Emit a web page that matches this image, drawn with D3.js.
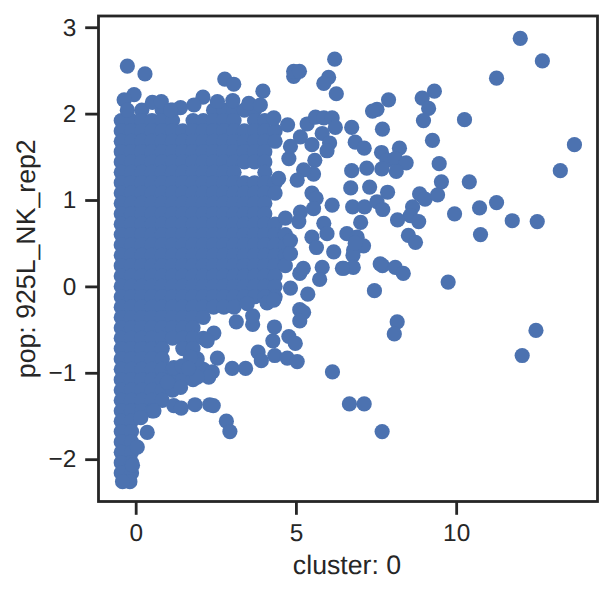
<!DOCTYPE html>
<html>
<head>
<meta charset="utf-8">
<script src="https://cdn.jsdelivr.net/npm/d3@7/dist/d3.min.js"></script>
<style>
  body { margin: 0; background: #fff; }
  text { font-family: "Liberation Sans", Arial, sans-serif; fill: #262626; text-rendering: geometricPrecision; }
</style>
</head>
<body>
<div id="chart"></div>
<script>
///////////////////////////////////////////////////////////////////////////
// Data
///////////////////////////////////////////////////////////////////////////
const xTicks = [0, 5, 10];
const yTicks = [-2, -1, 0, 1, 2, 3];
const xLabel = "cluster: 0";
const yLabel = "pop: 925L_NK_rep2";

// Dots that can be told apart on the right of the cloud
const outliers = [
  [12.0,2.87],[12.69,2.61],[11.26,2.41],[9.32,2.26],[8.94,2.18],[9.14,2.06],[8.98,1.92],[10.26,1.93],
  [7.89,2.16],[7.53,2.05],[7.39,2.03],[6.74,1.84],[7.70,1.82],[9.26,1.69],[13.69,1.64],[6.85,1.67],
  [7.13,1.60],[8.23,1.60],[7.67,1.55],[7.84,1.46],[8.10,1.48],[8.44,1.43],[9.47,1.42],[13.25,1.34],
  [6.74,1.34],[7.21,1.37],[7.68,1.36],[8.13,1.33],[9.54,1.21],[10.41,1.21],[6.71,1.14],[7.30,1.15],
  [7.86,1.09],[8.86,1.07],[9.03,1.01],[9.42,1.06],[11.26,0.97],[10.73,0.91],[9.95,0.84],[6.77,0.92],
  [7.14,0.92],[7.53,0.98],[7.71,0.89],[8.64,0.92],[8.57,0.82],[8.17,0.77],[8.83,0.75],[11.75,0.76],
  [12.53,0.75],[7.02,0.74],[10.76,0.60],[8.51,0.59],[8.73,0.51],[6.59,0.61],[6.91,0.57],[7.11,0.47],
  [6.80,0.42],[6.78,0.36],[6.85,0.50],[7.70,0.24],[9.75,0.05],[7.45,-0.05],[7.63,0.26],[8.10,0.22],
  [8.35,0.15],[6.79,0.22],[6.45,0.21],[8.16,-0.41],[8.07,-0.55],[12.49,-0.51],[12.06,-0.80],[6.14,-0.99],
  [6.67,-1.36],[7.13,-1.36],[7.69,-1.68]
];

// Dots along the upper and right edge of the cloud
const upperFringe = [
  [-0.26,2.55],[0.29,2.46],[6.21,2.63],[4.93,2.43],[4.93,2.49],[5.11,2.49],[6.02,2.42],[5.87,2.35],
  [6.26,2.23],[2.78,2.40],[3.06,2.34],[3.97,2.26],[-0.05,2.22],[-0.36,2.16],[0.52,2.13],[0.80,2.14],
  [2.10,2.19],[2.55,2.14],[3.03,2.15],[3.53,2.12],[3.89,2.10],[1.40,2.07],[1.82,2.10],[1.09,2.04],
  [-0.26,2.04],[4.31,1.95],[4.74,1.87],[5.35,1.88],[5.61,1.96],[5.87,1.95],[6.13,1.95],[6.23,1.84],
  [5.14,1.73],[5.50,1.64],[5.82,1.77],[6.05,1.66],[5.97,1.57],[5.59,1.46],[4.78,1.48],[4.83,1.62],
  [5.55,1.30],[5.24,1.35],[5.04,1.23],[4.46,1.25],[5.50,1.08],[5.63,1.02],[5.55,0.90],[5.14,0.86],
  [5.09,0.75],[4.67,0.79],[6.13,0.94],[5.87,0.73],[5.50,0.57],[5.97,0.61],[5.64,0.45],[6.18,0.40],
  [4.83,0.53],[4.83,0.38],[6.49,0.21],[5.82,0.22],[5.74,0.08],[5.12,0.15],[5.23,0.21]
];

// Dots along the lower edge of the cloud
const lowerFringe = [
  [4.83,-0.02],[5.37,-0.09],[5.12,-0.27],[5.24,-0.30],[5.12,-0.40],[4.33,-0.47],[4.78,-0.58],[4.98,-0.66],
  [4.28,-0.63],[3.82,-0.76],[3.92,-0.86],[4.34,-0.80],[4.73,-0.83],[5.04,-0.87],[3.14,-0.41],[3.65,-0.44],
  [3.65,-0.34],[3.48,-0.20],[4.10,-0.19],[4.31,-0.16],[2.44,-0.54],[2.23,-0.63],[2.55,-0.83],[3.01,-0.95],
  [3.43,-0.95],[2.39,-0.99],[2.28,-1.05],[1.92,-1.05],[1.92,-0.84],[1.71,-0.82],[1.19,-0.94],[1.45,-0.92],
  [1.65,-0.95],[1.40,-1.17],[0.99,-1.11],[1.19,-1.38],[1.42,-1.41],[1.85,-1.37],[2.31,-1.37],[2.42,-1.38],
  [2.83,-1.56],[2.94,-1.68],[0.36,-1.69],[0.05,-1.86],[-0.10,-2.07],[-0.18,-2.26],[-0.41,-2.26],[0.57,-1.44],
  [0.16,-1.52]
];

// The middle of the cloud is solid colour in the picture, single dots can't be
// read there. These are estimates, one row per y value, enough to cover the area.
const coreY = [2.04,1.92,1.80,1.68,1.56,1.44,1.32,1.20,1.08,0.96,0.84,0.72,0.60,0.48,0.36,0.24,0.12,0.00,
  -0.12,-0.24,-0.36,-0.48,-0.60,-0.72,-0.84,-0.96,-1.08,-1.20,-1.32,-1.44,-1.56,-1.68,-1.80,-1.92,-2.04,-2.16];
const coreX = [
  [0.19,0.83,1.15,2.43,2.75,3.07,3.39,3.71],
  [-0.45,-0.13,0.19,0.51,0.83,1.15,1.79,2.11,2.43,2.75,3.07,3.71,4.03],
  [-0.45,-0.13,0.19,0.51,0.83,1.15,1.47,1.79,2.11,2.43,2.75,3.07,3.39,3.71,4.03,4.35],
  [-0.45,-0.13,0.19,0.51,0.83,1.15,1.47,1.79,2.11,2.43,2.75,3.07,3.39,3.71,4.03,4.35],
  [-0.45,-0.13,0.19,0.51,0.83,1.15,1.47,1.79,2.11,2.43,2.75,3.07,3.39,3.71,4.03],
  [-0.45,-0.13,0.19,0.51,0.83,1.15,1.47,1.79,2.11,2.43,2.75,3.07,3.39,3.71,4.03],
  [-0.45,-0.13,0.19,0.51,0.83,1.15,1.47,1.79,2.11,2.43,2.75,3.07,4.03],
  [-0.45,-0.13,0.19,0.51,0.83,1.15,1.47,1.79,2.11,2.43,2.75,3.07,3.39,3.71,4.03,4.35],
  [-0.45,-0.13,0.19,0.51,0.83,1.15,1.47,1.79,2.11,2.43,2.75,3.07,3.39,3.71,4.03,4.35],
  [-0.45,-0.13,0.19,0.51,0.83,1.15,1.47,1.79,2.11,2.43,2.75,3.07,3.39,3.71,4.03],
  [-0.45,-0.13,0.19,0.51,0.83,1.15,1.47,1.79,2.11,2.43,2.75,3.07,3.39,3.71,4.03],
  [-0.45,-0.13,0.19,0.51,0.83,1.15,1.47,1.79,2.11,2.43,2.75,3.07,3.39,3.71,4.03,4.35],
  [-0.45,-0.13,0.19,0.51,0.83,1.15,1.47,1.79,2.11,2.43,2.75,3.07,3.39,3.71,4.03,4.35,4.67],
  [-0.45,-0.13,0.19,0.51,0.83,1.15,1.47,1.79,2.11,2.43,2.75,3.07,3.39,3.71,4.03,4.35,4.67],
  [-0.45,-0.13,0.19,0.51,0.83,1.15,1.47,1.79,2.11,2.43,2.75,3.07,3.39,3.71,4.03,4.35,4.67],
  [-0.45,-0.13,0.19,0.51,0.83,1.15,1.47,1.79,2.11,2.43,2.75,3.07,3.39,3.71,4.03,4.35,4.67],
  [-0.45,-0.13,0.19,0.51,0.83,1.15,1.47,1.79,2.11,2.43,2.75,3.07,3.39,3.71,4.03,4.35],
  [-0.45,-0.13,0.19,0.51,0.83,1.15,1.47,1.79,2.11,2.43,2.75,3.07,3.39,3.71,4.03,4.35],
  [-0.45,-0.13,0.19,0.51,0.83,1.15,1.47,1.79,2.11,2.43,2.75,3.07,3.39,3.71,4.03,4.35],
  [-0.45,-0.13,0.19,0.51,0.83,1.15,1.47,1.79,2.11,2.43,2.75,3.07],
  [-0.45,-0.13,0.19,0.51,0.83,1.15,1.47,1.79,2.11],
  [-0.45,-0.13,0.19,0.51,0.83,1.15,1.47,1.79],
  [-0.45,-0.13,0.19,0.51,0.83,1.15,1.47,1.79,2.11],
  [-0.45,-0.13,0.19,0.51,0.83,1.47,1.79],
  [-0.45,-0.13,0.19,0.51,0.83],
  [-0.45,-0.13,0.19,0.51,0.83,1.15,1.47,1.79,2.11],
  [-0.45,-0.13,0.19,0.51,0.83,1.15,1.47,1.79],
  [-0.45,-0.13,0.19,0.51,0.83,1.15],
  [-0.45,-0.13,0.19,0.51,0.83],
  [-0.45,-0.13,0.19,0.51],
  [-0.45,-0.13],
  [-0.45,-0.13],
  [-0.45,-0.13],
  [-0.45,-0.13],
  [-0.45,-0.13],
  [-0.45,-0.13]
];

///////////////////////////////////////////////////////////////////////////
// Set up the SVG
///////////////////////////////////////////////////////////////////////////
const width = 613;
const height = 595;
const box = { left: 98.5, right: 597.5, top: 16, bottom: 501.5 };
const ink = "#262626";
const blue = "#4C72B0";
const lineW = 2.8;

const svg = d3.select("#chart").append("svg")
  .attr("width", width)
  .attr("height", height)
  .style("display", "block");

const x = d3.scaleLinear().domain([-1.16, 14.41]).range([box.left, box.right]);
const y = d3.scaleLinear().domain([-2.49, 3.13]).range([box.bottom, box.top]);

///////////////////////////////////////////////////////////////////////////
// Points
///////////////////////////////////////////////////////////////////////////
const corePoints = coreY.flatMap((v, i) => coreX[i].map(u => [u, v]));
const points = corePoints.concat(lowerFringe, upperFringe, outliers);

svg.append("g")
  .selectAll("circle")
  .data(points)
  .join("circle")
  .attr("cx", d => x(d[0]))
  .attr("cy", d => y(d[1]))
  .attr("r", 7.6)
  .attr("fill", blue);

///////////////////////////////////////////////////////////////////////////
// Axes
///////////////////////////////////////////////////////////////////////////
const xAxis = svg.append("g")
  .attr("transform", `translate(0,${box.bottom})`)
  .call(d3.axisBottom(x).tickValues(xTicks).tickFormat(d3.format("d")).tickSize(13.3).tickPadding(9));

const yAxis = svg.append("g")
  .attr("transform", `translate(${box.left},0)`)
  .call(d3.axisLeft(y).tickValues(yTicks).tickFormat(d3.format("d")).tickSize(13.3).tickPadding(9));

[xAxis, yAxis].forEach(ax => {
  ax.select(".domain").remove();
  ax.selectAll("line").attr("stroke", ink).attr("stroke-width", lineW);
  ax.selectAll("text")
    .attr("font-size", "24.4px")
    .attr("font-family", "'Liberation Sans', Arial, sans-serif")
    .attr("fill", ink);
});

svg.append("rect")
  .attr("x", box.left)
  .attr("y", box.top)
  .attr("width", box.right - box.left)
  .attr("height", box.bottom - box.top)
  .attr("fill", "none")
  .attr("stroke", ink)
  .attr("stroke-width", lineW);

svg.append("text")
  .attr("x", (box.left + box.right) / 2 - 1)
  .attr("y", 574)
  .attr("text-anchor", "middle")
  .attr("font-size", "26.7px")
  .text(xLabel);

svg.append("text")
  .attr("transform", `translate(34.5,${(box.top + box.bottom) / 2}) rotate(-90)`)
  .attr("text-anchor", "middle")
  .attr("font-size", "26.7px")
  .text(yLabel);
</script>
</body>
</html>
